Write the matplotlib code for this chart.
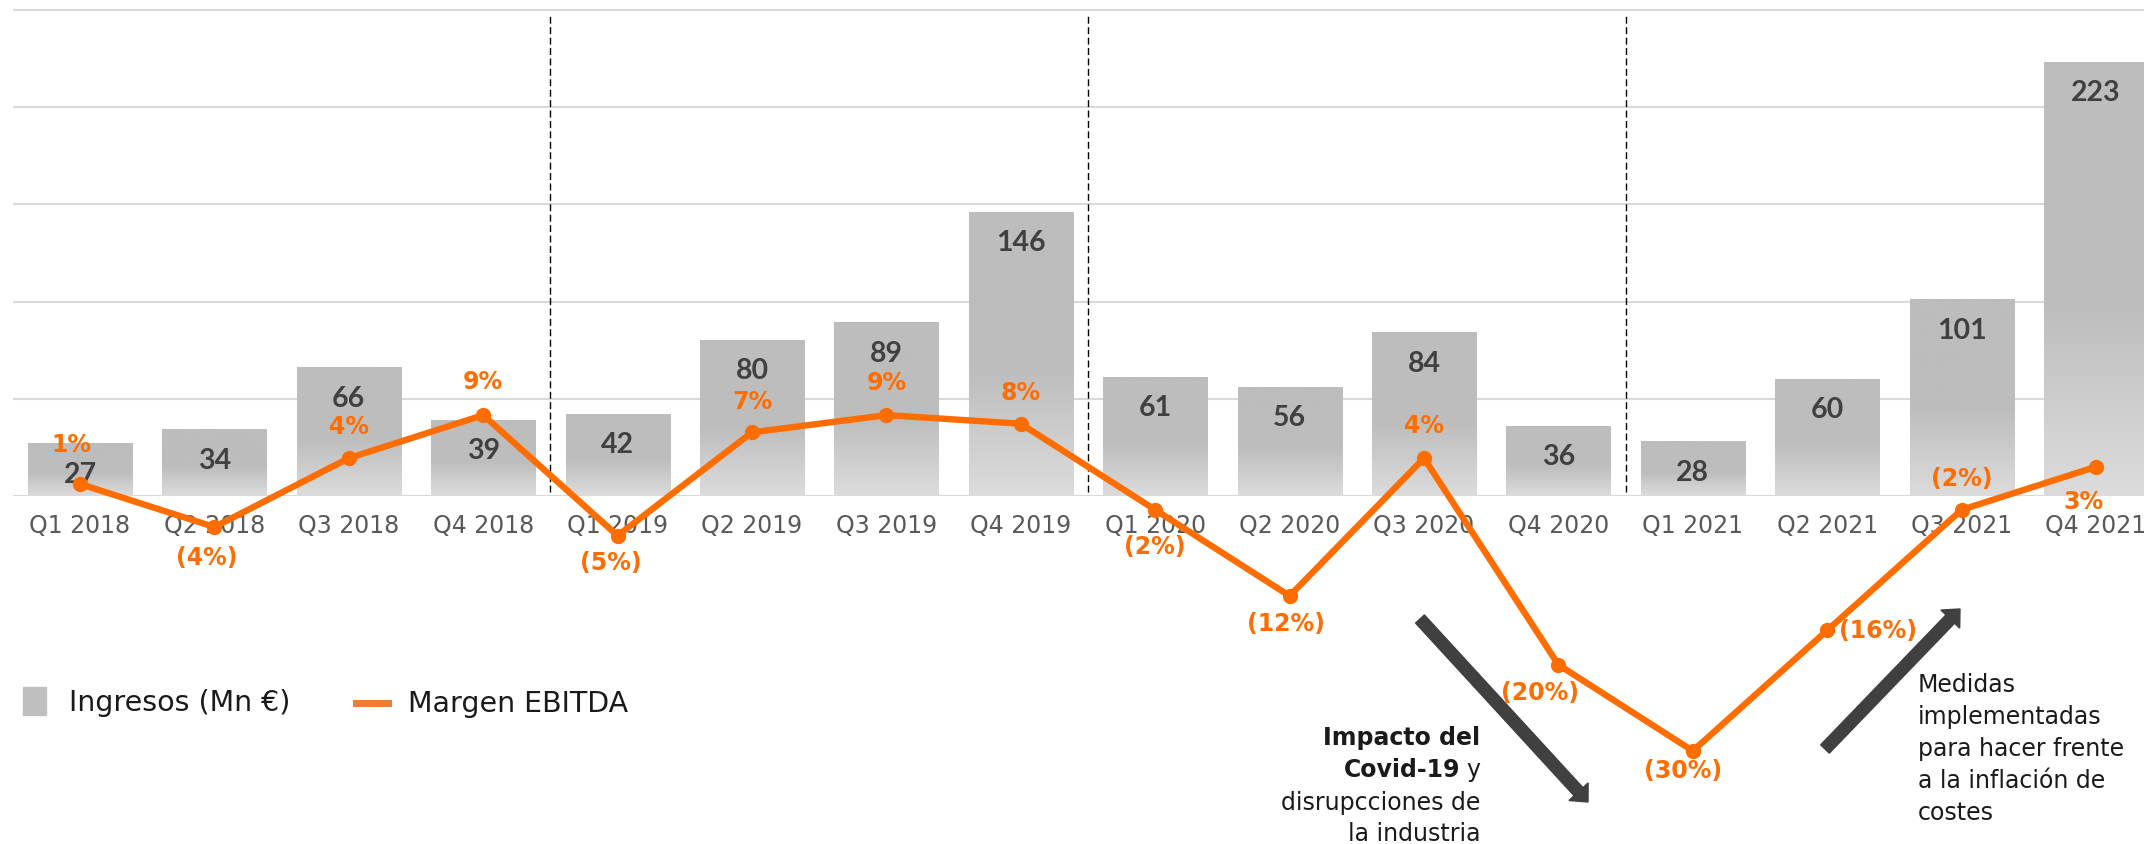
import matplotlib
matplotlib.use('Agg')
import matplotlib.pyplot as plt
import numpy as np
from matplotlib.patches import Rectangle, FancyArrow
from matplotlib.lines import Line2D
from matplotlib.transforms import IdentityTransform

plt.rcParams['font.family'] = ['DejaVu Sans']

#DATA
quarters = ['Q1 2018', 'Q2 2018', 'Q3 2018', 'Q4 2018',
            'Q1 2019', 'Q2 2019', 'Q3 2019', 'Q4 2019',
            'Q1 2020', 'Q2 2020', 'Q3 2020', 'Q4 2020',
            'Q1 2021', 'Q2 2021', 'Q3 2021', 'Q4 2021']
ingresos = [27, 34, 66, 39, 42, 80, 89, 146, 61, 56, 84, 36, 28, 60, 101, 223]
margen = [1, -4, 4, 9, -5, 7, 9, 8, -2, -12, 4, -20, -30, -16, -2, 3]
year_breaks = [3.5, 7.5, 11.5]

#STYLE
W, H = 2144, 845
GRAY_TOP = '#bdbdbd'
GRAY_BOT = '#dcdcdc'
ORANGE = '#FF6D00'
DARK = '#404040'
TXT = '#1a1a1a'
NUM_FONT = ['Lato', 'DejaVu Sans']
#label offsets (pixels) for the margin labels, relative to each point
lbl_off = [(-9, 40), (-8, -30), (0, 32), (0, 34), (-7, -26), (0, 31), (0, 33), (0, 32),
           (0, -36), (-4, -27), (0, 33), (-18, -27), (-10, -19), (51, 0), (0, 32), (-13, -34)]

fig = plt.figure(figsize=(W/100, H/100), dpi=100)
left = 12.8 / W
ax = fig.add_axes([left, 348/H, 1 - left, 492/H])
x = np.arange(len(quarters))
xlim = (-0.5, -0.5 + (W - 12.8) / 134.4)
ylim = (0, 492 / 1.944)

#bars with a soft vertical gradient in the lower part
bars = ax.bar(x, ingresos, width=0.774, color=GRAY_TOP, zorder=2)
t = np.linspace(0, 1, 200)
frac = np.clip((t - 0.55) / 0.45, 0, 1)
c0 = np.array(matplotlib.colors.to_rgb(GRAY_TOP))
c1 = np.array(matplotlib.colors.to_rgb(GRAY_BOT))
grad = (c0[None, :] * (1 - frac[:, None]) + c1[None, :] * frac[:, None])[:, None, :]
for b in bars:
    ax.imshow(grad, extent=[b.get_x(), b.get_x() + b.get_width(), 0, b.get_height()],
              aspect='auto', interpolation='bilinear', zorder=2.1)
    ax.annotate(str(int(b.get_height())), (b.get_x() + b.get_width()/2, b.get_height()),
                xytext=(0, -30), textcoords='offset pixels', ha='center', va='center',
                fontsize=20.5, fontweight='bold', family=NUM_FONT, color=DARK, zorder=3)

ax.set_xlim(xlim)
ax.set_ylim(ylim)
ax.set_yticks(range(0, 251, 50))
ax.yaxis.grid(True, color='#d9d9d9', lw=1.5)
ax.set_axisbelow(True)
ax.tick_params(axis='y', length=0, labelleft=False)
ax.set_xticks(x, labels=quarters)
ax.tick_params(axis='x', length=0, pad=12, labelsize=17, labelcolor='#595959')
for s in ax.spines.values():
    s.set_visible(False)

#year separators
ax.vlines(year_breaks, 2, 247, colors='black', lw=1, linestyles=(0, (5, 2.5)), zorder=1.5)

#margin line on its own scale
ax2 = ax.twinx()
ax2.set_ylim(-3.4/8.61, (492 - 3.4)/8.61)
ax2.set_xlim(xlim)
ax2.axis('off')
ax2.plot(x, margen, color=ORANGE, lw=4.6, marker='o', ms=10, clip_on=False, zorder=5)
for i, m in enumerate(margen):
    txt = f'{m}%' if m >= 0 else f'({-m}%)'
    ax2.annotate(txt, (x[i], m), xytext=lbl_off[i], textcoords='offset pixels',
                 ha='center', va='center', fontsize=17, fontweight='bold',
                 color=ORANGE, annotation_clip=False, zorder=6)

#legend, built by hand
def fx(px):
    return px / W
def fy(py):
    return 1 - py / H

fig.add_artist(Rectangle((fx(23), fy(716)), 23/W, 28/H, color='#bfbfbf', transform=fig.transFigure))
fig.text(fx(69), fy(703), 'Ingresos (Mn €)', fontsize=20.5, color=TXT, va='center', ha='left')
fig.add_artist(Line2D([fx(356), fx(388)], [fy(704), fy(704)], color='#ED7D31', lw=5,
                      transform=fig.transFigure))
fig.text(fx(408), fy(704), 'Margen EBITDA', fontsize=20.5, color=TXT, va='center', ha='left')

#arrows
fig.add_artist(FancyArrow(1420, H - 620, 168, -183, width=12, head_width=26, head_length=14,
                          length_includes_head=True, color=DARK, transform=IdentityTransform()))
fig.add_artist(FancyArrow(1825, H - 750, 135, 140, width=12, head_width=26, head_length=14,
                          length_includes_head=True, color=DARK, transform=IdentityTransform()))

#annotation texts
fs = 17
fig.text(fx(1480), fy(738), 'Impacto del', fontsize=fs, fontweight='bold', color=TXT, ha='right', va='center')
ty = fig.text(fx(1480), fy(770), 'y', fontsize=fs, color=TXT, ha='right', va='center')
fig.canvas.draw()
bb = ty.get_window_extent(fig.canvas.get_renderer())
fig.text((bb.x0 - 6) / W, fy(770), 'Covid-19', fontsize=fs, fontweight='bold', color=TXT, ha='right', va='center')
fig.text(fx(1480), fy(803), 'disrupcciones de', fontsize=fs, color=TXT, ha='right', va='center')
fig.text(fx(1480), fy(834), 'la industria', fontsize=fs, color=TXT, ha='right', va='center')

medidas = ['Medidas', 'implementadas', 'para hacer frente', 'a la inflación de', 'costes']
for k, line in enumerate(medidas):
    fig.text(fx(1918), fy(685 + k * 32), line, fontsize=fs, color=TXT, ha='left', va='center')

fig.savefig('out.png', dpi=100)
